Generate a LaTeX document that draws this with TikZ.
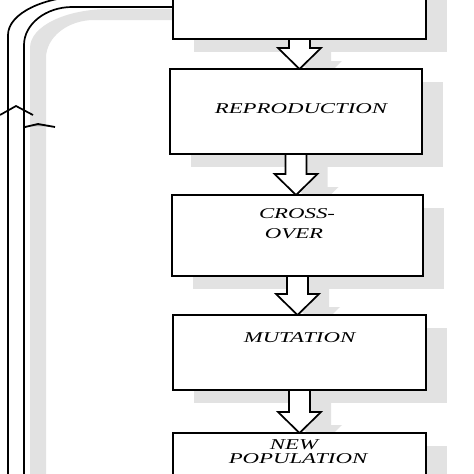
\documentclass[tikz,border=0pt]{standalone}
\usepackage{fontspec}
\setmainfont{Liberation Serif}
\usetikzlibrary{calc}
\definecolor{shade}{RGB}{226,226,226}
\newcommand\barrow[5]{%
  \path[#1] let \p1=(#2.south), \p2=(#3.north) in
   (\x1-10.5pt+#4,\y1+#5) -- (\x1-10.5pt+#4,\y2+21pt+#5) -- (\x1-21.5pt+#4,\y2+21pt+#5)
   -- (\x1+#4,\y2+#5) -- (\x1+21.5pt+#4,\y2+21pt+#5) -- (\x1+10.5pt+#4,\y2+21pt+#5)
   -- (\x1+10.5pt+#4,\y1+#5);}
\begin{document}
\begin{tikzpicture}[x=1pt,y=-1pt,
  boxpos/.style={rectangle, inner sep=0pt, outer sep=0pt},
  boxline/.style={draw=black, fill=white, line width=1.7pt},
  shadowfill/.style={fill=shade},
  arrowline/.style={draw=black, fill=white, line width=1.7pt, line join=miter},
  loopline/.style={draw=black, line width=1.7pt},
  lab/.style={anchor=base, inner sep=0pt, font=\fontsize{15}{18}\selectfont\itshape, xscale=1.52}]
\useasboundingbox (0,0) rectangle (474,474);
\fill[white] (0,0) rectangle (474,474);
\clip (0,0) rectangle (474,474);
% box geometry
\node[boxpos, minimum width=253pt, minimum height=79pt] (b1) at (299.5,-0.5) {};
\node[boxpos, minimum width=252pt, minimum height=85pt] (b2) at (296,111.5) {};
\node[boxpos, minimum width=251pt, minimum height=81pt] (b3) at (297.5,235.5) {};
\node[boxpos, minimum width=253pt, minimum height=75pt] (b4) at (299.5,352.5) {};
\node[boxpos, minimum width=253pt, minimum height=87pt] (b5) at (299.5,476.5) {};
\coordinate (jin) at (0,7);
\coordinate (jout) at (0,-4);
% shadows
\foreach \b in {b1,b2,b3,b4,b5}{
  \fill[shadowfill] ([shift={(21,13)}]\b.south west) rectangle ([shift={(21,13)}]\b.north east);
}
\barrow{shadowfill}{b1}{b2}{21pt}{-13pt}
\barrow{shadowfill}{b2}{b3}{21pt}{-13pt}
\barrow{shadowfill}{b3}{b4}{21pt}{-13pt}
\barrow{shadowfill}{b4}{b5}{21pt}{-13pt}
\fill[shadowfill] (30,480) -- (30,48) .. controls (30,26) and (66,9) .. (110,9) -- (195,9)
  -- (195,20) -- (94,20) .. controls (68,20) and (46,37) .. (46,58) -- (46,480) -- cycle;
\draw[shade, line width=1.8pt] (25,127) -- (38,124) -- (55,127);
% loop
\fill[white] (8,480) -- (8,35) .. controls (8,13.5) and (44,-4) .. (88,-4) -- (173,-4)
  -- (173,7) -- (72,7) .. controls (46,7) and (24,24) .. (24,45) -- (24,480) -- cycle;
\draw[loopline] (8,480) -- (8,35) .. controls (8,13.5) and (44,-4) .. (88,-4) -- (b1.west |- jout);
\draw[loopline] (24,480) -- (24,45) .. controls (24,24) and (46,7) .. (72,7) -- (b1.west |- jin);
\draw[loopline] (0,115) -- (16,106) -- (33,115);
% arrows
\barrow{arrowline}{b1}{b2}{0pt}{0pt}
\barrow{arrowline}{b2}{b3}{0pt}{0pt}
\barrow{arrowline}{b3}{b4}{0pt}{0pt}
\barrow{arrowline}{b4}{b5}{0pt}{0pt}
% boxes
\foreach \b in {b1,b2,b3,b4,b5}{
  \draw[boxline] (\b.south west) rectangle (\b.north east);
}
% labels
\node[lab] (t2) at (301,113) {REPRODUCTION};
\node[lab] (t3a) at (297,218) {CROSS-};
\node[lab] (t3b) at (294,238) {OVER};
\node[lab] (t4) at (299.5,342) {MUTATION};
\node[lab] (t5a) at (294,449) {NEW};
\node[lab] (t5b) at (298,463) {POPULATION};
\end{tikzpicture}
\end{document}
